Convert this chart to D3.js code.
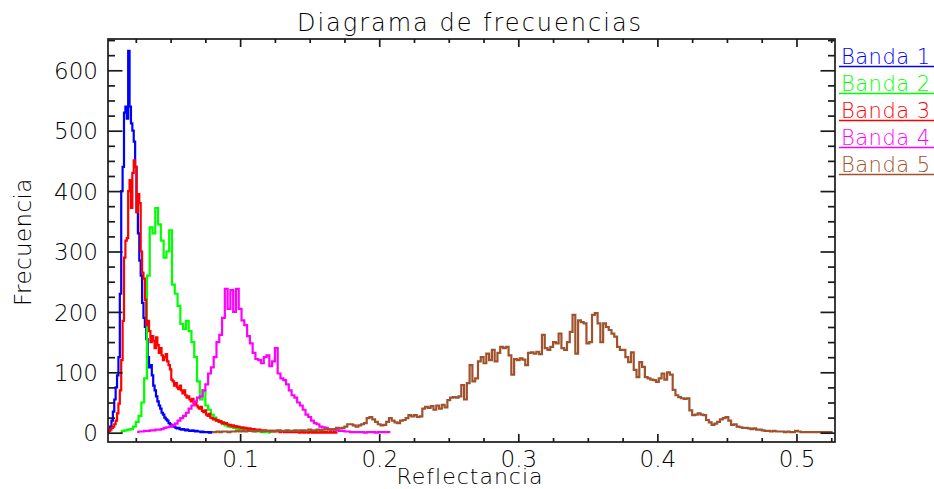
<!DOCTYPE html>
<html>
<head>
<meta charset="utf-8">
<script src="https://cdn.jsdelivr.net/npm/d3@7"></script>
<style>
  html, body { margin: 0; padding: 0; background: #fff; }
  svg { display: block; }
  text { font-family: "DejaVu Sans", "Liberation Sans", sans-serif; font-weight: 200; fill: #000; }
</style>
</head>
<body>
<svg id="chart" width="934" height="489"></svg>
<script>
// ---- Data: reflectance histograms of five bands ----
const bandNames = ["Banda 1", "Banda 2", "Banda 3", "Banda 4", "Banda 5"];
const binStart = [0.005, 0.014, 0.005, 0.026, 0.080];
const binWidth = [0.001, 0.002, 0.001, 0.002, 0.002];

const band1 = [
  2, 4, 10, 20, 35, 55, 75, 95, 125, 230,
  400, 440, 530, 540, 520, 632, 540, 512, 500, 482,
  440, 365, 330, 285, 260, 215, 190, 175, 155, 125,
  108, 112, 95, 78, 70, 60, 52, 45, 40, 33,
  30, 25, 22, 20, 16, 14, 12, 10, 10, 8,
  7, 8, 6, 5, 6, 5, 4, 5, 4, 3,
  3, 4, 3, 2, 3, 2, 2, 1, 2, 1,
  1, 1, 1, 0, 1, 0
];

const band2 = [
  0, 3, 4, 5, 6, 10, 18, 28, 50, 90,
  260, 340, 330, 372, 345, 318, 290, 300, 335, 245,
  230, 210, 180, 172, 185, 168, 150, 125, 85, 55,
  70, 45, 38, 30, 25, 20, 18, 14, 12, 10,
  9, 8, 7, 6, 5, 5, 4, 3, 3, 2,
  2, 1, 1, 1, 0
];

const band3 = [
  2, 3, 5, 8, 10, 14, 20, 32, 48, 70,
  120, 185, 290, 318, 322, 400, 418, 372, 430, 451,
  440, 365, 395, 380, 300, 265, 255, 220, 178, 185,
  168, 150, 160, 152, 140, 158, 145, 132, 140, 128,
  120, 125, 130, 118, 112, 105, 88, 85, 78, 82,
  75, 72, 78, 70, 65, 70, 62, 58, 60, 55,
  52, 56, 48, 50, 45, 42, 40, 43, 36, 34,
  37, 30, 28, 31, 25, 24, 22, 23, 20, 21,
  18, 19, 16, 17, 15, 16, 14, 12, 13, 11,
  12, 10, 11, 9, 10, 9, 8, 9, 7, 8,
  7, 6, 7, 6, 5, 6, 5, 5, 4, 5,
  4, 4, 3, 4, 3, 3, 3, 2, 3, 2,
  2, 3, 2, 2, 1, 2, 2, 1, 2, 1,
  1, 2, 1, 1, 2, 1, 1, 1, 0, 1,
  1, 0, 1, 1, 0, 1, 1, 0, 1, 0,
  1, 0, 0, 1, 0, 1, 0, 1, 0, 0,
  1, 0, 0, 1, 0, 0
];

const band4 = [
  1, 2, 2, 3, 3, 4, 4, 5, 5, 6,
  8, 9, 10, 12, 15, 20, 24, 28, 33, 40,
  45, 52, 58, 60, 70, 80, 98, 108, 125, 150,
  162, 190, 238, 205, 236, 200, 238, 205, 186, 178,
  160, 148, 132, 122, 120, 115, 125, 128, 110, 118,
  140, 98, 90, 87, 80, 70, 62, 58, 50, 45,
  38, 30, 26, 20, 16, 14, 10, 9, 8, 6,
  5, 5, 4, 3, 3, 2, 2, 1, 1, 1,
  1, 1, 0, 1, 1, 1, 0, 1, 1, 1,
  1, 1
];

const band5 = [
  1, 1, 2, 1, 2, 2, 1, 2, 2, 3,
  2, 3, 2, 3, 3, 2, 3, 3, 2, 3,
  3, 3, 2, 3, 4, 3, 3, 4, 3, 3,
  4, 3, 4, 4, 3, 5, 4, 4, 5, 4,
  5, 6, 5, 5, 6, 8, 7, 8, 10, 14,
  14, 12, 10, 12, 14, 16, 24, 26, 22, 18,
  14, 12, 13, 18, 24, 20, 17, 16, 20, 21,
  24, 29, 27, 29, 26, 27, 40, 43, 41, 44,
  38, 45, 40, 46, 42, 54, 58, 59, 58, 60,
  79, 55, 82, 112, 85, 90, 118, 125, 115, 131,
  120, 137, 118, 132, 142, 140, 142, 128, 96, 122,
  120, 123, 121, 112, 132, 133, 131, 134, 130, 162,
  140, 137, 142, 150, 148, 164, 140, 137, 150, 167,
  195, 131, 186, 183, 181, 148, 150, 195, 198, 181,
  150, 181, 175, 170, 164, 159, 142, 137, 137, 125,
  117, 133, 104, 92, 117, 109, 92, 90, 88, 87,
  84, 90, 98, 88, 100, 96, 71, 62, 59, 57,
  56, 57, 37, 29, 30, 32, 30, 29, 21, 17,
  13, 15, 18, 22, 24, 26, 20, 13, 14, 10,
  9, 8, 8, 7, 6, 7, 5, 5, 4, 3,
  3, 2, 3, 2, 2, 2, 1, 2, 1, 1,
  3, 2, 1, 1, 1, 1, 1, 1, 1, 1,
  1, 1, 1, 1
];

const bandCounts = [band1, band2, band3, band4, band5];
const xTickValues = [0.1, 0.2, 0.3, 0.4, 0.5];
const xTickLabels = ["0.1", "0.2", "0.3", "0.4", "0.5"];
const yTickValues = [0, 100, 200, 300, 400, 500, 600];
const yTickLabels = ["0", "100", "200", "300", "400", "500", "600"];

// ---- Styles ----
const bandColors = ["#0000ff", "#00ff00", "#ff0000", "#ff00ff", "#a0522d"];
const axisColor = "#1a1a1a";

// ---- Layout ----
const svg = d3.select("#chart");
const plot = { left: 108, right: 835, top: 39, bottom: 442 };

const x = d3.scaleLinear().domain([0.005, 0.5277]).range([plot.left, plot.right]);
const y = d3.scaleLinear().domain([-15.4, 651.8]).range([plot.bottom, plot.top]);

svg.append("defs").append("clipPath").attr("id", "plotClip")
  .append("rect")
  .attr("x", plot.left).attr("y", plot.top)
  .attr("width", plot.right - plot.left).attr("height", plot.bottom - plot.top);

// ---- Histogram step lines (drawn band 1 first, band 5 last) ----
const stepLine = d3.line()
  .x(d => x(d[0]))
  .y(d => y(d[1]))
  .curve(d3.curveStep);

const seriesG = svg.append("g").attr("clip-path", "url(#plotClip)");
bandNames.forEach((name, k) => {
  const counts = bandCounts[k];
  const pts = counts.map((c, i) => [binStart[k] + i * binWidth[k], c]);
  seriesG.append("path")
    .datum(pts)
    .attr("d", stepLine)
    .attr("fill", "none")
    .attr("stroke", bandColors[k])
    .attr("stroke-width", 2.2)
    .attr("stroke-linejoin", "miter");
});

// ---- Box axes with inward ticks on all sides ----
const xMinor = d3.range(1, 22).map(i => i * 0.025).filter(v => !xTickValues.some(t => Math.abs(t - v) < 1e-9));
const yMinor = d3.range(0, 27).map(i => i * 25).filter(v => v % 100 !== 0 && v <= 651);

const xMajorLen = 8, xMinorLen = 4, yMajorLen = 14.5, yMinorLen = 7;

const frame = svg.append("g");
const axisB = d3.axisBottom(x).tickValues(xTickValues).tickFormat((d, i) => xTickLabels[i]).tickSizeInner(-xMajorLen).tickSizeOuter(0);
const axisBm = d3.axisBottom(x).tickValues(xMinor).tickFormat("").tickSizeInner(-xMinorLen).tickSizeOuter(0);
const axisT = d3.axisTop(x).tickValues(xTickValues).tickFormat("").tickSizeInner(-xMajorLen).tickSizeOuter(0);
const axisTm = d3.axisTop(x).tickValues(xMinor).tickFormat("").tickSizeInner(-xMinorLen).tickSizeOuter(0);
const axisL = d3.axisLeft(y).tickValues(yTickValues).tickFormat((d, i) => yTickLabels[i]).tickSizeInner(-yMajorLen).tickSizeOuter(0);
const axisLm = d3.axisLeft(y).tickValues(yMinor).tickFormat("").tickSizeInner(-yMinorLen).tickSizeOuter(0);
const axisR = d3.axisRight(y).tickValues(yTickValues).tickFormat("").tickSizeInner(-yMajorLen).tickSizeOuter(0);
const axisRm = d3.axisRight(y).tickValues(yMinor).tickFormat("").tickSizeInner(-yMinorLen).tickSizeOuter(0);

function styleAxis(g) {
  g.select(".domain").remove();
  g.selectAll(".tick line").attr("stroke", axisColor).attr("stroke-width", 1.7);
  g.selectAll(".tick text")
    .attr("font-family", "DejaVu Sans, Liberation Sans, sans-serif")
    .attr("font-weight", 200)
    .attr("font-size", 23)
    .attr("fill", "#000");
}

frame.append("g").attr("transform", `translate(0,${plot.bottom})`).call(axisB).call(styleAxis)
  .selectAll(".tick text").attr("dy", null).attr("y", 25);
frame.append("g").attr("transform", `translate(0,${plot.bottom})`).call(axisBm).call(styleAxis);
frame.append("g").attr("transform", `translate(0,${plot.top})`).call(axisT).call(styleAxis);
frame.append("g").attr("transform", `translate(0,${plot.top})`).call(axisTm).call(styleAxis);
frame.append("g").attr("transform", `translate(${plot.left},0)`).call(axisL).call(styleAxis)
  .selectAll(".tick text").attr("x", -10).attr("dy", "0.36em");
frame.append("g").attr("transform", `translate(${plot.left},0)`).call(axisLm).call(styleAxis);
frame.append("g").attr("transform", `translate(${plot.right},0)`).call(axisR).call(styleAxis);
frame.append("g").attr("transform", `translate(${plot.right},0)`).call(axisRm).call(styleAxis);

frame.append("rect")
  .attr("x", plot.left).attr("y", plot.top)
  .attr("width", plot.right - plot.left).attr("height", plot.bottom - plot.top)
  .attr("fill", "none").attr("stroke", axisColor).attr("stroke-width", 1.7);

// ---- Titles ----
svg.append("text")
  .attr("x", 470).attr("y", 31)
  .attr("text-anchor", "middle")
  .attr("font-size", 24)
  .attr("letter-spacing", 2)
  .text("Diagrama de frecuencias");

svg.append("text")
  .attr("x", 470).attr("y", 484)
  .attr("text-anchor", "middle")
  .attr("font-size", 22)
  .attr("letter-spacing", 1)
  .text("Reflectancia");

svg.append("text")
  .attr("transform", "translate(31,242) rotate(-90)")
  .attr("text-anchor", "middle")
  .attr("font-size", 23)
  .attr("letter-spacing", 0.4)
  .text("Frecuencia");

// ---- Legend: coloured names with underline ----
const legend = svg.append("g");
bandNames.forEach((name, k) => {
  const base = 63.5 + k * 27;
  legend.append("text")
    .attr("x", 841).attr("y", base)
    .attr("font-size", 21)
    .attr("letter-spacing", 0.5)
    .style("fill", bandColors[k])
    .text(name);
  legend.append("line")
    .attr("x1", 839).attr("x2", 934)
    .attr("y1", base + 3).attr("y2", base + 3)
    .attr("stroke", bandColors[k])
    .attr("stroke-width", 1.5);
});
</script>
</body>
</html>
